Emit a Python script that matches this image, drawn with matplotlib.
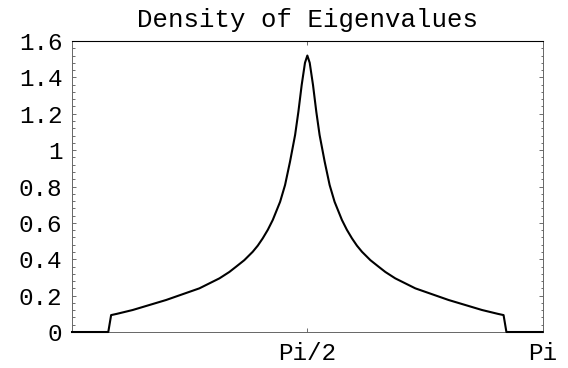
import matplotlib.pyplot as plt
import numpy as np
from matplotlib.ticker import MultipleLocator

# eigenvalue density sampled over theta in [0, Pi]
THETA = [0.0, 0.242, 0.261, 0.300, 0.405, 0.628, 0.850, 0.984, 1.050, 1.095,
         1.150, 1.206, 1.240, 1.273, 1.307, 1.340, 1.389, 1.422, 1.455, 1.489,
         1.511, 1.533, 1.555, 1.5708,
         1.5866, 1.6086, 1.6306, 1.6526, 1.6866, 1.7196, 1.7526, 1.8016, 1.8346,
         1.8686, 1.9016, 1.9356, 1.9916, 2.0466, 2.0916, 2.1576, 2.2916, 2.5136,
         2.7366, 2.8416, 2.8806, 2.8996, 3.1416]
DENSITY = [0.0, 0.0, 0.093, 0.100, 0.121, 0.176, 0.240, 0.295, 0.330, 0.359,
           0.395, 0.441, 0.475, 0.515, 0.562, 0.616, 0.716, 0.808, 0.936, 1.083,
           1.211, 1.358, 1.480, 1.520,
           1.480, 1.358, 1.211, 1.083, 0.936, 0.808, 0.716, 0.616, 0.562,
           0.515, 0.475, 0.441, 0.395, 0.359, 0.330, 0.295, 0.240, 0.176,
           0.121, 0.100, 0.093, 0.0, 0.0]

Y_TICKS = [0, 0.2, 0.4, 0.6, 0.8, 1.0, 1.2, 1.4, 1.6]
Y_LABELS = ["0", "0.2", "0.4", "0.6", "0.8", "1", "1.2", "1.4", "1.6"]
X_TICKS = [np.pi / 2, np.pi]
X_LABELS = ["Pi/2", "Pi"]

plt.rcParams['font.family'] = ['Liberation Mono', 'DejaVu Sans Mono']

fig = plt.figure(figsize=(5.68, 3.68), dpi=100)
ax = fig.add_axes([0.1268, 0.0978, 0.8286, 0.7908])

ax.plot(THETA, DENSITY, color='black', linewidth=1.5, clip_on=False, zorder=3)

ax.set_xlim(0, np.pi)
ax.set_ylim(0, 1.6)

ax.set_xticks(X_TICKS)
ax.set_xticklabels(X_LABELS)
ax.set_yticks(Y_TICKS)
ax.set_yticklabels(Y_LABELS)
ax.yaxis.set_minor_locator(MultipleLocator(0.04))

# Mathematica-style frame: inward ticks on every side, labels only left/bottom
ax.tick_params(which='both', direction='in', top=True, right=True,
               color='#555555', width=0.6)
ax.tick_params(which='major', length=3.0, labelsize=17.5, pad=7)
ax.tick_params(which='minor', length=1.8)
ax.tick_params(axis='x', which='major', pad=7)

for side in ['left', 'right', 'bottom']:
    ax.spines[side].set_color('#666666')
    ax.spines[side].set_linewidth(0.7)
ax.spines['top'].set_color('black')
ax.spines['top'].set_linewidth(0.8)

ax.set_title('Density of Eigenvalues', fontsize=18.5, pad=10)

fig.savefig('out.png', dpi=100)
